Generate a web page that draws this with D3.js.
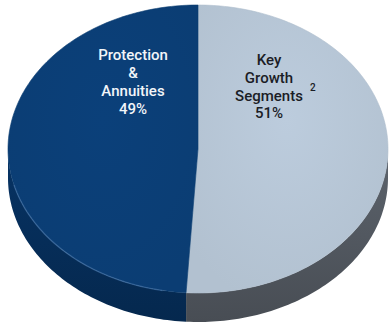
<!DOCTYPE html>
<html><head><meta charset="utf-8">
<script src="https://cdn.jsdelivr.net/npm/d3@7"></script>
<style>html,body{margin:0;padding:0;background:#fff;}svg{display:block;}</style>
</head><body>
<svg id="c" width="391" height="325"></svg>
<script>
const categories = ["Key Growth Segments", "Protection & Annuities"];
const values = [51, 49];
const labelLines = [["Key", "Growth", "Segments", "51%"], ["Protection", "&", "Annuities", "49%"]];
const topColors = ["#b8c8d8", "#0b3f77"];
const sideColors = ["#50565e", "#062c57"];
const textColors = ["#1b1d26", "#f2f5f9"];

const svg = d3.select("#c");
const cx = 198, cy = 149, rx = 190, ry = 144, depth = 29;

const color = d3.scaleOrdinal().domain(categories).range(topColors);
const sideColor = d3.scaleOrdinal().domain(categories).range(sideColors);

const pie = d3.pie().sort(null).value(d => d.v);
const data = categories.map((c, i) => ({c, v: values[i], i}));
const arcs = pie(data);

const px = a => cx + rx * Math.sin(a);
const py = (a, dy = 0) => cy - ry * Math.cos(a) + dy;

function arcPoints(a0, a1, dy) {
  const n = Math.max(2, Math.ceil(Math.abs(a1 - a0) / 0.02));
  return d3.range(n + 1).map(k => {
    const a = a0 + (a1 - a0) * k / n;
    return [px(a), py(a, dy)];
  });
}

const defs = svg.append("defs");
arcs.forEach((d, i) => {
  const g = defs.append("linearGradient").attr("id", "side" + i)
    .attr("x1", 0).attr("y1", 0).attr("x2", 0).attr("y2", 1);
  const base = d3.color(sideColor(d.data.c));
  g.append("stop").attr("offset", "0%").attr("stop-color", base.brighter(0.4));
  g.append("stop").attr("offset", "100%").attr("stop-color", base.darker(0.3));
  const t = defs.append("radialGradient").attr("id", "top" + i)
    .attr("cx", "50%").attr("cy", "40%").attr("r", "65%");
  const tb = d3.color(color(d.data.c));
  t.append("stop").attr("offset", "0%").attr("stop-color", tb.brighter(0.06));
  t.append("stop").attr("offset", "100%").attr("stop-color", tb.darker(0.1));
});

const line = d3.line();

// side walls (front half)
arcs.forEach((d, i) => {
  const a0 = Math.max(d.startAngle, Math.PI / 2);
  const a1 = Math.min(d.endAngle, 3 * Math.PI / 2);
  if (a1 <= a0) return;
  const topPts = arcPoints(a0, a1, 0);
  const botPts = arcPoints(a1, a0, depth);
  svg.append("path").attr("d", line(topPts.concat(botPts)) + "Z")
    .attr("fill", `url(#side${i})`);
});

// top faces
arcs.forEach((d, i) => {
  const pts = [[cx, cy]].concat(arcPoints(d.startAngle, d.endAngle, 0));
  svg.append("path").attr("d", line(pts) + "Z")
    .attr("fill", `url(#top${i})`)
    .attr("stroke", d3.color(color(d.data.c)).darker(0.15))
    .attr("stroke-width", 0.6);
});

// rim highlight on the front-left edge of the dark slice
svg.append("path").attr("d", line(arcPoints(Math.PI * 1.06, Math.PI * 1.42, 0)))
  .attr("fill", "none").attr("stroke", "#4a78ad").attr("stroke-opacity", 0.55).attr("stroke-width", 1.4);

// labels
const labelPos = [[269, 65], [133, 60]];
const lineGap = [17.8, 18];
arcs.forEach((d, i) => {
  const t = svg.append("text")
    .attr("text-anchor", "middle")
    .attr("font-family", "Roboto, 'Liberation Sans', sans-serif")
    .attr("font-weight", 500)
    .attr("font-size", 15)
    .attr("fill", textColors[i]);
  labelLines[i].forEach((s, k) => {
    t.append("tspan").attr("x", labelPos[i][0]).attr("y", labelPos[i][1] + k * lineGap[i]).text(s);
  });
  if (i === 0) {
    svg.append("text").attr("x", 310).attr("y", 91)
      .attr("font-family", "Roboto, 'Liberation Sans', sans-serif")
      .attr("font-weight", 500).attr("font-size", 10)
      .attr("fill", textColors[i]).text("2");
  }
});
</script>
</body></html>
